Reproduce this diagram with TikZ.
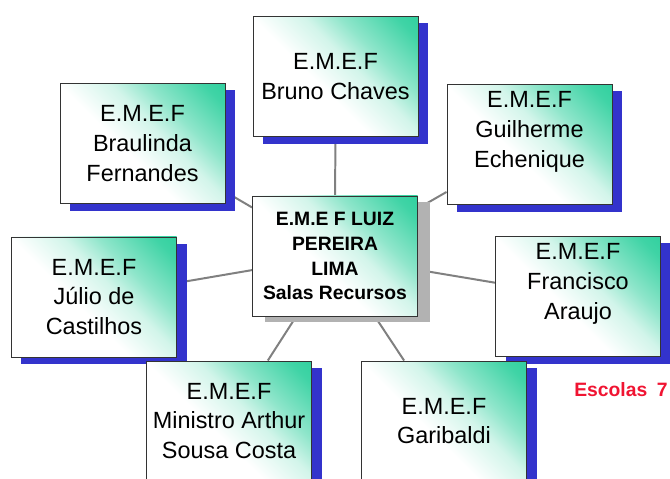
\documentclass[tikz,border=0pt]{standalone}
\usepackage{fontspec}
\setmainfont{Liberation Sans}
\usetikzlibrary{shadows,backgrounds}

\definecolor{emefgreen}{RGB}{30,204,150}
\definecolor{shadowblue}{RGB}{51,51,204}
\definecolor{shadowgrey}{RGB}{178,178,178}
\definecolor{linkgrey}{RGB}{128,128,128}
\definecolor{countred}{RGB}{240,20,50}

\pgfdeclarehorizontalshading{emeffade}{100bp}{color(0bp)=(white);
  color(44bp)=(white); color(57bp)=(emefgreen!20); color(66bp)=(emefgreen!50);
  color(80bp)=(emefgreen!85); color(93bp)=(emefgreen); color(100bp)=(emefgreen)}

\begin{document}
\begin{tikzpicture}[x=0.03cm,y=-0.03cm,
  schoolbox/.style={draw=black!80,line width=0.8pt,shading=emeffade,
    shading angle=45,minimum width=4.95cm,minimum height=3.6cm,
    inner sep=0pt,align=center,font=\fontsize{20}{25.5}\selectfont},
  school/.style={schoolbox,general shadow={fill=shadowblue,
    shadow xshift=0.3cm,shadow yshift=-0.21cm}},
  hub/.style={schoolbox,font=\fontsize{16.5}{21.3}\selectfont\bfseries,
    general shadow={fill=shadowgrey,shadow xshift=0.36cm,shadow yshift=-0.18cm}},
  link/.style={linkgrey,line width=1.7pt}]

  \useasboundingbox (0,0) rectangle (670,479);

  % central school
  \node[hub] (hub) at (335,256) {E.M.E F LUIZ\\PEREIRA\\LIMA\\Salas Recursos};

  % schools round it
  \node[school] (bruno)     at (335.5,76.5) {E.M.E.F\\Bruno Chaves};
  \node[school] (braulinda) at (142.5,143.5) {E.M.E.F\\Braulinda\\Fernandes};
  \node[school] (guilherme) at (529.5,144.5)
    {E.M.E.F\\Guilherme\\Echenique\\\mbox{}};
  \node[school] (julio)     at (94,297) {E.M.E.F\\Júlio de\\Castilhos};
  \node[school] (francisco) at (578,296.5)
    {E.M.E.F\\Francisco\\Araujo\\\mbox{}};
  \node[school] (ministro)  at (229,421)
    {E.M.E.F\\Ministro Arthur\\Sousa Costa};
  \node[school] (garibaldi) at (444,421) {E.M.E.F\\Garibaldi};

  % count
  \node[countred,font=\fontsize{16.5}{20}\selectfont\bfseries] (count)
    at (621,390) {Escolas\enspace7};

  % links
  \begin{scope}[on background layer]
    \foreach \s in {bruno,braulinda,guilherme,julio,francisco,ministro,garibaldi}
      \draw[link] (hub) -- (\s);
  \end{scope}
\end{tikzpicture}
\end{document}
